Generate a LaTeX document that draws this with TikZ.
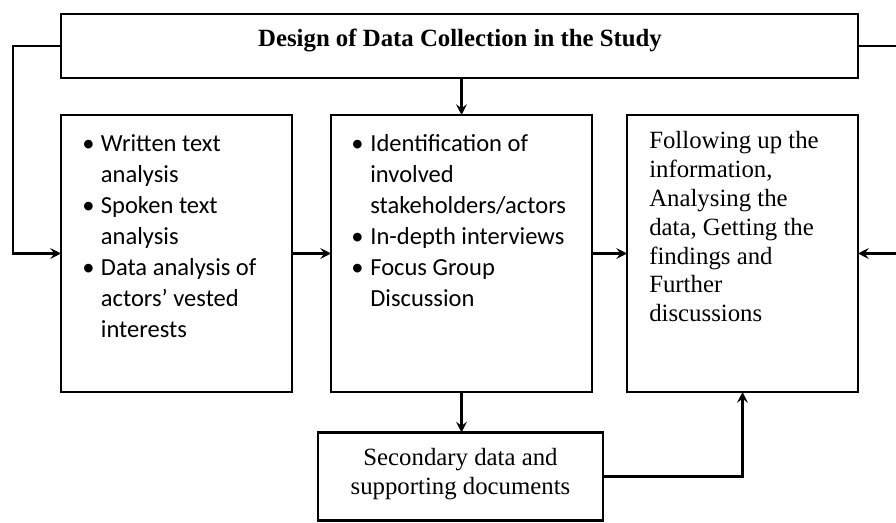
\documentclass[tikz,border=0pt]{standalone}
\usepackage{fontspec}
\setmainfont{Liberation Serif}
\newfontfamily\calib{Carlito}
\usetikzlibrary{arrows.meta}
\newcommand{\bul}[1]{\makebox[#1][l]{•}}
\begin{document}
\begin{tikzpicture}[x=0.75pt,y=-0.75pt,
  box/.style={draw,line width=2.2pt,inner sep=0pt,outer sep=0pt,rectangle},
  arr/.style={line width=1.6pt,-{Stealth[length=8pt,width=8pt,inset=3pt]}},
  bultext/.style={anchor=base west,inner sep=0pt,font={\calib\fontsize{18.4}{23.25}\selectfont}},
  sertext/.style={anchor=base west,inner sep=0pt,font={\fontsize{18.6}{21.6}\selectfont}}]
\useasboundingbox (0,0) rectangle (896,523);
% boxes
\node[box,minimum width=597.75pt,minimum height=48pt] (top) at (459.5,46) {};
\node[box,minimum width=173.25pt,minimum height=207.75pt] (left) at (176.5,253.5) {};
\node[box,minimum width=195.75pt,minimum height=207.75pt] (mid) at (461.5,253.5) {};
\node[box,minimum width=173.25pt,minimum height=207.75pt] (right) at (742.5,253.5) {};
\node[box,minimum width=213.75pt,minimum height=66pt] (sec) at (460.5,476.5) {};
% texts
\node[anchor=base,inner sep=0pt,font={\bfseries\fontsize{18.6}{22}\selectfont}] (title) at (460,47) {Design of Data Collection in the Study};
\node[bultext] (ltext) at (82,152) {\vtop{\hbox{\bul{14pt}Written text}\hbox{\hspace*{14pt}analysis}\hbox{\bul{14pt}Spoken text}\hbox{\hspace*{14pt}analysis}\hbox{\bul{14pt}Data analysis of}\hbox{\hspace*{14pt}actors’ vested}\hbox{\hspace*{14pt}interests}}};
\node[bultext] (mtext) at (351,152) {\vtop{\hbox{\bul{14.3pt}Identification of}\hbox{\hspace*{14.3pt}involved}\hbox{\hspace*{14.3pt}stakeholders/actors}\hbox{\bul{14.3pt}In-depth interviews}\hbox{\bul{14.3pt}Focus Group}\hbox{\hspace*{14.3pt}Discussion}}};
\node[sertext] (rtext) at (649,149) {\vtop{\hbox{Following up the}\hbox{information,}\hbox{Analysing the}\hbox{data, Getting the}\hbox{findings and}\hbox{Further}\hbox{discussions}}};
\node[anchor=base,inner sep=0pt,font={\fontsize{18.6}{21.2}\selectfont}] (stext) at (460.5,466) {\vtop{\halign{\hfil#\hfil\cr Secondary data and\cr supporting documents\cr}}};
% coordinates
\coordinate (lc1) at (13,46);
\coordinate (lc2) at (13,253.5);
\coordinate (rc1) at (910,46);
\coordinate (rc2) at (910,253.5);
% connectors
\draw[arr] (mid.north |- top.south) -- (mid.north);
\draw[arr] (top.west) -- (lc1) -- (lc2) -- (left.west);
\draw[arr] (left.east) -- (mid.west);
\draw[arr] (mid.east) -- (right.west);
\draw[arr] (top.east) -- (rc1) -- (rc2) -- (right.east);
\draw[arr] (mid.south) -- (mid.south |- sec.north);
\draw[arr] (sec.east) -| (right.south);
\end{tikzpicture}
\end{document}
